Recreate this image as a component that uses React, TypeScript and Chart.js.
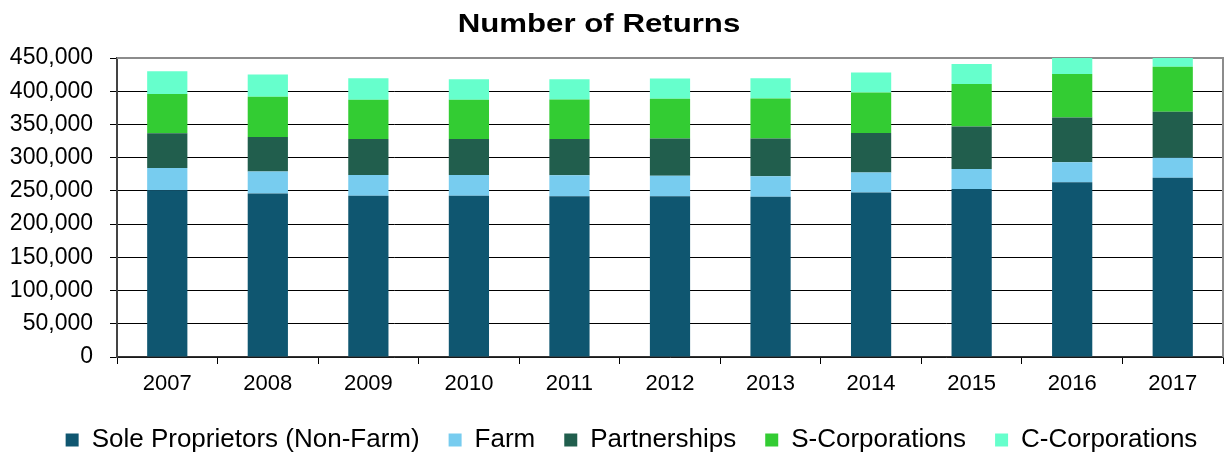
import { useEffect, useRef } from "react";
import { Chart, registerables } from "chart.js";

Chart.register(...registerables);

const years = ["2007", "2008", "2009", "2010", "2011", "2012", "2013", "2014", "2015", "2016", "2017"];
const soleProprietors = [251000, 246000, 242500, 242500, 242000, 242000, 241000, 247600, 253000, 263000, 269600];
const farm = [33600, 33000, 31500, 31500, 31600, 30600, 31000, 30100, 30000, 30000, 30100];
const partnerships = [52300, 52000, 54000, 54000, 54400, 56400, 57000, 59300, 64000, 67500, 69300];
const sCorporations = [59100, 60600, 59000, 59000, 59600, 59600, 60000, 61000, 64000, 65500, 68000];
const cCorporations = [34000, 33400, 32700, 31000, 30400, 30400, 30700, 30000, 30000, 30000, 30000];

const chartTitle = "Number of Returns";
const FONT = "'Liberation Sans', Arial, sans-serif";

export default function App() {
  const ref = useRef<HTMLCanvasElement>(null);

  useEffect(() => {
    document.body.style.margin = "0";
    const mk = (label: string, data: number[], color: string) => ({
      label,
      data,
      backgroundColor: color,
      borderWidth: 0,
      barPercentage: 0.4,
      categoryPercentage: 1,
      clip: 0,
    });

    const titlePlugin = {
      id: "customTitle",
      afterDraw(chart: any) {
        const { ctx } = chart;
        ctx.save();
        ctx.font = `bold 26px ${FONT}`;
        ctx.fillStyle = "#000";
        ctx.textAlign = "center";
        ctx.textBaseline = "alphabetic";
        ctx.translate(chart.width / 2 - 13, 32);
        ctx.scale(1.2, 1);
        ctx.fillText(chartTitle, 0, 0);
        ctx.restore();
      },
    };

    const legendShift = {
      id: "legendShift",
      afterLayout(chart: any) {
        if (chart.legend) {
          chart.legend.left += 20;
          chart.legend.right += 20;
        }
      },
    };

    const borderPlugin = {
      id: "plotBorder",
      beforeDatasetsDraw(chart: any) {
        const { ctx, chartArea } = chart;
        const { left, top, right, bottom } = chartArea;
        ctx.save();
        ctx.strokeStyle = "#8c8c8c";
        ctx.lineWidth = 2;
        ctx.beginPath();
        ctx.moveTo(left, top);
        ctx.lineTo(right, top);
        ctx.lineTo(right, bottom);
        ctx.stroke();
        ctx.restore();
      },
    };

    const chart = new Chart(ref.current!, {
      type: "bar",
      data: {
        labels: years,
        datasets: [
          mk("Sole Proprietors (Non-Farm)", soleProprietors, "#0F5670"),
          mk("Farm", farm, "#77CCEF"),
          mk("Partnerships", partnerships, "#215E4D"),
          mk("S-Corporations", sCorporations, "#33CC33"),
          mk("C-Corporations", cCorporations, "#66FFCC"),
        ],
      },
      options: {
        responsive: true,
        maintainAspectRatio: false,
        animation: false,
        layout: { padding: { top: 58, left: 0, right: 1, bottom: -5 } },
        plugins: {
          title: { display: false },
          tooltip: { enabled: false },
          legend: {
            position: "bottom",
            labels: {
              font: { family: FONT, size: 26 },
              color: "#000",
              boxWidth: 13,
              boxHeight: 13,
              padding: 29,
            },
          },
        },
        scales: {
          x: {
            stacked: true,
            afterFit: (scale: any) => {
              scale.height = 41;
            },
            grid: {
              offset: true,
              drawOnChartArea: false,
              drawTicks: true,
              tickLength: 7,
              color: "#000",
            },
            border: { color: "#333", width: 1.5 },
            ticks: {
              font: { family: FONT, size: 22 },
              color: "#000",
              padding: 7,
            },
          },
          y: {
            stacked: true,
            min: 0,
            max: 450000,
            afterFit: (scale: any) => {
              scale.width = 117;
            },
            grid: {
              color: "#000",
              lineWidth: 1,
              drawTicks: true,
              tickLength: 7,
            },
            border: { color: "#444", width: 2 },
            ticks: {
              stepSize: 50000,
              autoSkip: false,
              font: { family: FONT, size: 23 },
              color: "#000",
              padding: 17,
              callback: (v: any) => Number(v).toLocaleString("en-US"),
            },
          },
        },
      },
      plugins: [titlePlugin, borderPlugin, legendShift],
    });
    return () => chart.destroy();
  }, []);

  return (
    <div style={{ width: 1224, height: 458, position: "relative" }}>
      <canvas ref={ref} />
    </div>
  );
}
